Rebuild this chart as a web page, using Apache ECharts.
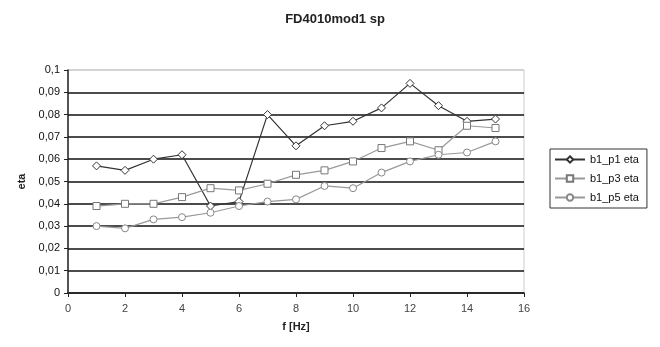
<!DOCTYPE html>
<html><head><meta charset="utf-8">
<script src="https://cdn.jsdelivr.net/npm/echarts@6/dist/echarts.min.js"></script>
<style>html,body{margin:0;padding:0;background:#fff}#c{width:660px;height:347px}</style>
</head><body><div id="c"></div>
<script>
const freqs = [1,2,3,4,5,6,7,8,9,10,11,12,13,14,15];
const p1 = [0.057,0.055,0.060,0.062,0.039,0.041,0.080,0.066,0.075,0.077,0.083,0.094,0.084,0.077,0.078];
const p3 = [0.039,0.040,0.040,0.043,0.047,0.046,0.049,0.053,0.055,0.059,0.065,0.068,0.064,0.075,0.074];
const p5 = [0.030,0.029,0.033,0.034,0.036,0.039,0.041,0.042,0.048,0.047,0.054,0.059,0.062,0.063,0.068];
const seriesNames = ['b1_p1 eta','b1_p3 eta','b1_p5 eta'];

const chart = echarts.init(document.getElementById('c'));
const pair = arr => freqs.map((f,i)=>[f,arr[i]]);
const font = 'Arial, "Liberation Sans", sans-serif';
const gridColors = ['#111','#111','#111','#111','#111','#111','#111','#111','#111','#111','#ccc'];
chart.setOption({
  animation:false,
  backgroundColor:'#fff',
  title:{text:'FD4010mod1 sp',left:330,top:8,textAlign:'center',
    textStyle:{fontFamily:font,fontSize:13,fontWeight:'bold',color:'#222'}},
  legend:{orient:'vertical',left:550,top:149,itemGap:8,itemWidth:30,itemHeight:8,
    borderColor:'#333',borderWidth:1,padding:[5,8,5,4],
    textStyle:{fontFamily:font,fontSize:11,color:'#111'},
    data:seriesNames},
  grid:{left:68,right:136,top:70,bottom:54,show:true,borderColor:'#ccc',borderWidth:1},
  xAxis:{type:'value',min:0,max:16,interval:2,
    name:'f [Hz]',nameLocation:'middle',nameGap:28,
    nameTextStyle:{fontFamily:font,fontSize:11,fontWeight:'bold',color:'#222'},
    axisLine:{lineStyle:{color:'#222',width:1.5}},
    axisTick:{length:4,lineStyle:{color:'#222'}},
    axisLabel:{fontFamily:font,fontSize:11,color:'#444',margin:10},
    splitLine:{show:false}},
  yAxis:{type:'value',min:0,max:0.1,interval:0.01,
    name:'eta',nameLocation:'middle',nameGap:40,nameRotate:90,
    nameTextStyle:{fontFamily:font,fontSize:11,fontWeight:'bold',color:'#222'},
    axisLine:{show:true,lineStyle:{color:'#222',width:1.5}},
    axisTick:{show:true,length:4,lineStyle:{color:'#222'}},
    axisLabel:{fontFamily:font,fontSize:11,color:'#111',margin:8,
      formatter:v=>v===0?'0':(+v.toFixed(2)).toString().replace('.',',')},
    splitLine:{show:true,lineStyle:{color:gridColors,width:1.5}}},
  series:[
    {name:seriesNames[0],type:'line',data:pair(p1),symbol:'diamond',symbolSize:8,
      itemStyle:{color:'#fff',borderColor:'#333',borderWidth:1},
      lineStyle:{color:'#333',width:1.2},color:'#333'},
    {name:seriesNames[1],type:'line',data:pair(p3),symbol:'rect',symbolSize:7,
      itemStyle:{color:'#fff',borderColor:'#777',borderWidth:1},
      lineStyle:{color:'#999',width:1.2},color:'#777'},
    {name:seriesNames[2],type:'line',data:pair(p5),symbol:'circle',symbolSize:7,
      itemStyle:{color:'#fff',borderColor:'#888',borderWidth:1},
      lineStyle:{color:'#999',width:1.2},color:'#888'}
  ]
});
</script></body></html>
